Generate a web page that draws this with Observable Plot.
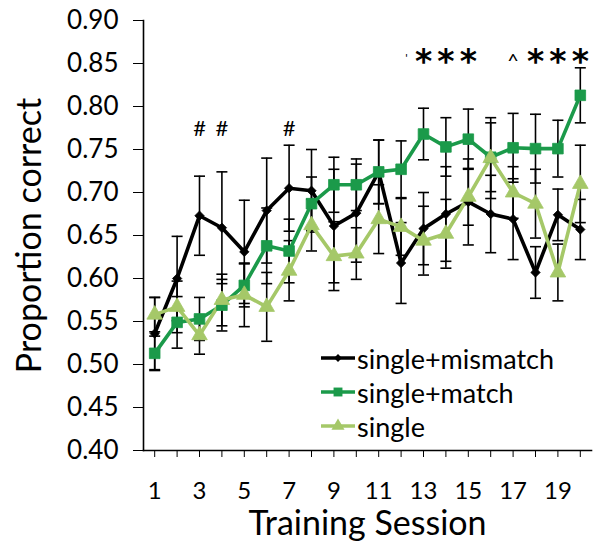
<!DOCTYPE html>
<html><head><meta charset="utf-8">
<script src="https://cdn.jsdelivr.net/npm/d3@7"></script>
<script src="https://cdn.jsdelivr.net/npm/@observablehq/plot@0.6"></script>
<style>
html,body{margin:0;padding:0;background:#fff;}
#wrap{position:relative;width:593px;height:542px;font-family:Lato,"Open Sans",sans-serif;}
#legend{position:absolute;left:320px;top:341px;}
.row{display:flex;align-items:center;height:34px;font-size:27px;color:#000;}
.row svg{margin-right:1px;}
</style></head><body><div id="wrap"></div>
<script>
const sessions = [1,2,3,4,5,6,7,8,9,10,11,12,13,14,15,16,17,18,19,20];
const seriesNames = ["single+mismatch","single+match","single"];
const mismatch    = [0.536,0.600,0.673,0.659,0.631,0.679,0.705,0.702,0.661,0.676,0.724,0.618,0.658,0.675,0.689,0.675,0.669,0.607,0.674,0.657];
const mismatchErr = [0.042,0.049,0.046,0.065,0.060,0.061,0.050,0.048,0.066,0.057,0.037,0.047,0.042,0.055,0.050,0.045,0.047,0.030,0.030,0.035];
const match       = [0.513,0.549,0.553,0.569,0.592,0.638,0.632,0.687,0.709,0.709,0.724,0.727,0.768,0.753,0.762,0.741,0.752,0.751,0.751,0.813];
const matchErr    = [0.020,0.030,0.025,0.030,0.025,0.044,0.037,0.031,0.032,0.030,0.037,0.033,0.030,0.034,0.035,0.040,0.040,0.040,0.033,0.032];
const single      = [0.558,0.567,0.534,0.575,0.581,0.567,0.609,0.662,0.626,0.629,0.669,0.660,0.644,0.652,0.695,0.740,0.700,0.687,0.607,0.710];
const singleErr   = [0.020,0.030,0.022,0.030,0.037,0.040,0.035,0.030,0.040,0.030,0.040,0.033,0.040,0.040,0.033,0.047,0.030,0.040,0.033,0.045];
const yTicks = [0.40,0.45,0.50,0.55,0.60,0.65,0.70,0.75,0.80,0.85,0.90];
const xTickLabels = [1,3,5,7,9,11,13,15,17,19];
const hashSessions = [3,4,7];
const starSessions = [13,14,15,18,19,20];
const caretSessions = [17];
const primeSessions = [13];
const xTitle = "Training Session";
const yTitle = "Proportion correct";

const colors = ["#000000","#1b9a4a","#a5c868"];
const symbols = ["diamond2","square","triangle"];
const radii = [4.2,6.0,5.8];

const valueSets = [mismatch, match, single];
const errSets = [mismatchErr, matchErr, singleErr];
const rows = seriesNames.flatMap((name, i) => sessions.map((s, j) => ({
  series: name, idx: i, session: s, value: valueSets[i][j],
  lo: valueSets[i][j] - errSets[i][j], hi: valueSets[i][j] + errSets[i][j]
})));

const cap = {draw(ctx){ ctx.moveTo(-5.5,0); ctx.lineTo(5.5,0); }};

const marks = [
  Plot.ruleX(rows, {x:"session", y1:"lo", y2:"hi", stroke:"#000", strokeWidth:1.6}),
  Plot.dot(rows, {x:"session", y:"lo", symbol:cap, stroke:"#000", strokeWidth:1.6, r:3}),
  Plot.dot(rows, {x:"session", y:"hi", symbol:cap, stroke:"#000", strokeWidth:1.6, r:3}),
];
seriesNames.forEach((name, i) => {
  const d = rows.filter(r => r.series === name);
  marks.push(Plot.line(d, {x:"session", y:"value", stroke:colors[i], strokeWidth:3.6}));
});
seriesNames.forEach((name, i) => {
  const d = rows.filter(r => r.series === name);
  marks.push(Plot.dot(d, {x:"session", y:"value", symbol:symbols[i], fill:colors[i], stroke: colors[i], strokeWidth:0.8, r:radii[i]}));
});
marks.push(
  Plot.axisY({ticks:yTicks, tickFormat:d3.format(".2f"), tickSize:10, tickPadding:15, fontSize:26, label:null}),
  Plot.axisX({ticks:sessions, tickFormat:()=>"", tickSize:7, label:null}),
  Plot.axisX({ticks:xTickLabels, tickFormat:d=>String(d), tickSize:0, tickPadding:31, fontSize:24, label:null}),
  Plot.frame({anchor:"left", stroke:"#000", strokeWidth:1.6}),
  Plot.frame({anchor:"bottom", stroke:"#000", strokeWidth:1.6}),
  Plot.text(hashSessions, {x:d=>d, frameAnchor:"top", dy:108, text:()=>"#", fontSize:22, lineAnchor:"middle"}),
  Plot.text(starSessions, {x:d=>d, frameAnchor:"top", dy:42, text:()=>"*", fontSize:33, fontWeight:"bold", lineAnchor:"middle", fontFamily:"DejaVu Sans"}),
  Plot.text(caretSessions, {x:d=>d, frameAnchor:"top", dy:41, text:()=>"^", fontSize:20, lineAnchor:"middle"}),
  Plot.text(primeSessions, {x:d=>d, frameAnchor:"top", dy:38, dx:-17, text:()=>"'", fontSize:12, lineAnchor:"middle"}),
  Plot.text([yTitle], {frameAnchor:"left", dx:-113, rotate:-90, text:d=>d, fontSize:34, lineAnchor:"middle", textAnchor:"middle"}),
  Plot.text([xTitle], {frameAnchor:"bottom", dy:74, text:d=>d, fontSize:34, lineAnchor:"middle"})
);

const chart = Plot.plot({
  width:593, height:542,
  marginLeft:143, marginRight:2, marginTop:20, marginBottom:92,
  style:{fontFamily:"Lato, 'Open Sans', sans-serif", color:"#000", background:"#fff", overflow:"visible"},
  x:{domain:[0.5,20.5]},
  y:{domain:[0.40,0.90]},
  marks
});
const wrap = document.getElementById("wrap");
wrap.appendChild(chart);

const legend = document.createElement("div");
legend.id = "legend";
seriesNames.forEach((name, i) => {
  const row = document.createElement("div");
  row.className = "row";
  const sym = d3.symbol(d3[{"diamond2":"symbolDiamond2","square":"symbolSquare","triangle":"symbolTriangle"}[symbols[i]]], Math.PI*radii[i]*radii[i]*0.7)();
  row.innerHTML = `<svg width="36" height="20"><line x1="1" x2="35" y1="10" y2="10" stroke="${colors[i]}" stroke-width="3.6"/><path transform="translate(18,10)" d="${sym}" fill="${colors[i]}"/></svg><span>${name}</span>`;
  legend.appendChild(row);
});
wrap.appendChild(legend);
</script></body></html>
